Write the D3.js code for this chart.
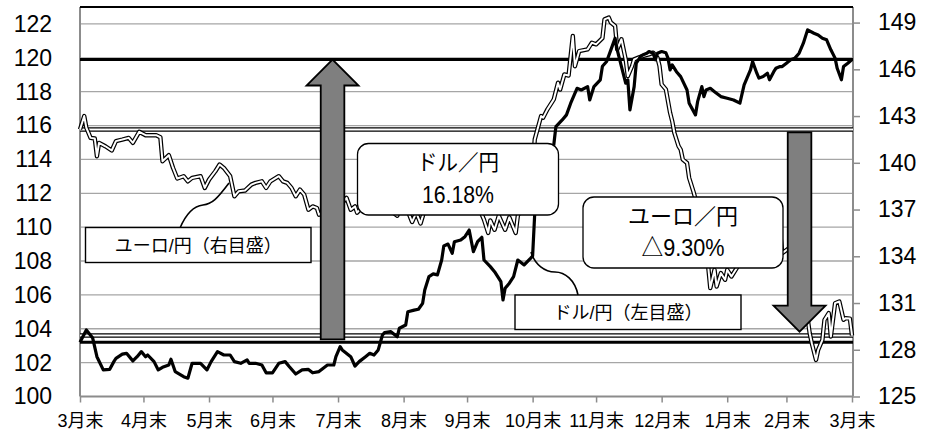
<!DOCTYPE html>
<html><head><meta charset="utf-8">
<script src="https://cdn.jsdelivr.net/npm/d3@7"></script>
<style>body{margin:0;background:#fff}svg{display:block}</style>
</head><body>
<svg id="chart" width="925" height="430"></svg>
<script>
// ---- data ----
const monthLabels = ["3月末","4月末","5月末","6月末","7月末","8月末","9月末","10月末","11月末","12月末","1月末","2月末","3月末"];
const monthDays   = [0,30,61,91,122,153,183,214,244,275,306,334,365]; // days since start (month ends)
const leftTicks  = [100,102,104,106,108,110,112,114,116,118,120,122];
const rightTicks = [125,128,131,134,137,140,143,146,149];

// ドル/円 (left axis)
const usdDays = [0,3,6,8,11,14,16,17,20,22,24,25,27,29,31,32,35,37,39,42,43,45,46,49,51,53,55,57,60,62,65,68,71,73,76,79,80,83,86,88,91,94,97,99,102,105,108,110,113,115,117,120,121,123,124,128,130,132,135,137,139,141,143,144,147,150,151,154,155,158,160,162,163,165,167,169,171,172,174,176,177,180,182,184,186,188,190,191,194,196,199,200,201,203,205,207,210,213,214,215,216,218,220,222,224,225,228,230,232,235,237,240,241,243,246,247,249,251,253,254,256,258,259,260,262,263,265,266,268,269,271,272,273,275,277,278,279,280,282,284,287,288,291,292,294,295,296,298,300,303,306,309,312,314,317,318,320,321,323,325,326,328,329,331,332,334,336,338,340,342,344,347,349,351,353,354,355,357,358,360,361,363,365];
const usdRate = [103.2,103.93,103.45,102.35,101.57,101.6,102.06,102.25,102.5,102.55,102.25,102.1,102.35,102.65,102.35,102.45,102.06,101.57,101.72,101.86,102.2,101.47,101.4,101.17,101.08,101.96,101.96,101.96,101.57,102.06,102.65,102.45,102.45,102.06,101.96,102.16,101.96,101.96,101.86,101.4,101.4,101.96,102.06,101.76,101.33,101.57,101.6,101.4,101.47,101.67,101.86,101.86,102.35,102.94,102.75,102.35,101.8,102.06,102.35,102.55,102.45,102.75,103.63,103.77,103.83,103.53,104.03,104.22,105.0,105.1,105.15,105.5,106.29,107.08,107.24,107.18,108.06,108.89,109.0,108.46,109.14,109.24,109.44,109.83,108.55,109.14,109.4,108.06,107.67,107.37,106.78,105.7,106.39,106.69,107.08,108.06,107.77,108.16,108.3,110.82,113.0,113.6,114.4,114.2,114.85,115.94,116.33,116.63,117.32,118.2,118.1,118.3,117.51,118.3,118.7,119.5,119.78,120.47,121.16,120.47,119.48,118.5,118.7,116.92,118.3,119.68,120.07,120.17,120.27,120.37,120.27,119.88,120.27,120.37,120.3,119.98,119.28,119.58,119.18,118.89,118.1,117.32,116.63,117.41,118.3,117.71,118.1,118.2,118.0,117.71,117.61,117.51,117.32,118.4,119.28,119.78,119.09,118.8,118.9,119.09,118.7,119.18,119.38,119.48,119.48,119.68,119.88,119.98,120.27,120.86,121.65,121.45,121.35,121.16,121.06,120.76,120.47,119.98,119.38,118.7,119.48,119.68,119.9];

// ユーロ/円 (right axis)
const eurDays = [0,2,3,5,7,8,9,12,15,17,20,23,25,28,31,33,36,38,39,42,44,46,49,51,53,57,59,61,64,66,68,71,73,75,78,81,83,86,88,90,94,96,98,100,102,104,106,108,110,112,113,116,119,122,126,128,130,131,133,136,138,140,143,145,147,150,151,153,155,157,159,161,163,166,168,170,173,175,177,179,181,183,185,187,189,191,193,194,196,198,201,203,206,207,209,211,213,214,215,218,219,221,224,226,227,229,231,233,234,236,240,242,244,247,248,250,251,253,254,256,258,259,261,262,264,266,269,271,273,274,275,277,279,280,281,282,283,284,285,287,288,290,292,294,296,297,298,300,301,303,305,306,308,311,313,316,318,320,322,325,327,329,331,332,335,337,339,341,343,345,346,348,349,351,352,354,355,357,359,361,362,364,365];
const eurRate = [142.14,143.0,142.25,141.6,141.56,140.42,141.28,141.06,140.79,141.39,141.49,141.6,141.28,141.99,141.77,141.77,141.77,141.64,140.1,140.49,139.67,138.99,139.14,138.81,139.03,139.14,138.39,138.92,139.46,139.89,139.67,139.14,137.85,138.17,138.22,138.6,138.71,138.81,138.39,138.81,139.14,138.81,138.71,138.39,137.85,138.28,137.96,136.99,137.2,137.1,136.67,137.0,137.4,137.1,137.75,136.99,137.2,136.8,137.1,137.4,137.0,137.3,137.6,137.2,136.9,136.6,137.0,137.4,136.9,136.2,136.8,136.1,137.0,138.0,138.7,139.3,139.8,140.3,140.7,139.9,139.2,138.6,138.1,137.5,137.0,136.35,135.5,136.3,135.7,136.6,135.7,136.5,135.5,136.6,137.2,137.0,137.6,139.5,141.5,143.0,142.9,143.43,144.07,145.14,144.7,145.67,145.6,148.14,146.2,147.17,147.28,147.71,147.6,148.0,149.21,149.32,149.0,148.78,147.28,147.93,146.64,145.57,146.21,146.64,146.75,146.85,146.96,147.07,146.75,146.21,145.03,144.71,143.21,142.67,141.93,141.5,141.07,140.85,140.21,139.99,139.03,138.17,137.2,135.6,134.2,133.35,131.96,133.13,132.06,132.92,132.49,133.13,132.7,133.35,134.2,135.0,134.5,135.5,135.0,135.8,135.3,136.0,135.6,134.2,134.5,133.8,133.0,132.3,131.0,129.06,128.42,127.35,127.99,128.63,129.92,130.35,128.85,130.99,131.1,129.92,130.03,130.0,128.92];

const usdName = "ドル／円", usdChange = "16.18%";
const eurName = "ユーロ／円", eurChange = "△9.30%";
const usdLegend = "ドル/円（左目盛）", eurLegend = "ユーロ/円（右目盛）";

// ---- layout ----
const FONT = "'Liberation Sans', Arial, 'Noto Sans CJK JP', sans-serif";
const svg = d3.select("#chart");
const L = 80, R = 853, T = 7, B = 396.5;
const x  = d3.scaleLinear().domain([0,365]).range([L, 852]);
const yL = d3.scaleLinear().domain([100,123]).range([B, T]);
const yR = d3.scaleLinear().domain([125,150]).range([B, T]);

// gridlines
svg.append("g").selectAll("line").data(leftTicks.filter(t => t > 100)).join("line")
  .attr("x1", L).attr("x2", R).attr("y1", d => yL(d)).attr("y2", d => yL(d))
  .attr("stroke", "#a6a6a6").attr("stroke-width", 1.3);

// axes
const gl = svg.append("g").attr("transform", `translate(${L},0)`)
  .call(d3.axisLeft(yL).tickValues(leftTicks).tickSize(0).tickPadding(28));
const gr = svg.append("g").attr("transform", `translate(${R},0)`)
  .call(d3.axisRight(yR).tickValues(rightTicks).tickSize(7).tickSizeOuter(0).tickPadding(18));
const gb = svg.append("g").attr("transform", `translate(0,${B})`)
  .call(d3.axisBottom(x).tickValues(monthDays).tickFormat((d,i) => monthLabels[i]).tickSize(6).tickSizeOuter(0).tickPadding(12));
[gl, gr, gb].forEach(g => {
  g.select(".domain").attr("stroke", "#8c8c8c").attr("stroke-width", 2);
  g.selectAll(".tick line").attr("stroke", "#8c8c8c").attr("stroke-width", 1.5);
  g.selectAll("text").attr("fill", "#000").attr("font-family", FONT);
});
gl.selectAll("text").attr("font-size", 23);
gr.selectAll("text").attr("font-size", 23);
gb.selectAll("text").attr("font-size", 18);
gl.select(".domain").attr("d", `M0,${T}V${B}`);
gr.select(".domain").attr("d", `M0,${T}V${B}`);
gb.select(".domain").attr("d", `M${L},0H${R}`);

// top border
svg.append("line").attr("x1", L).attr("x2", R).attr("y1", T).attr("y2", T)
  .attr("stroke", "#000").attr("stroke-width", 2);

// reference lines (start / end levels)
const usdStart = usdRate[0], usdEnd = usdRate[usdRate.length-1];
const eurStart = eurRate[0], eurEnd = eurRate[eurRate.length-1];
[usdStart, usdEnd].forEach(v => svg.append("line")
  .attr("x1", L).attr("x2", R).attr("y1", yL(v)).attr("y2", yL(v))
  .attr("stroke", "#000").attr("stroke-width", 3));
[eurStart, eurEnd].forEach(v => {
  svg.append("line").attr("x1", L).attr("x2", R).attr("y1", yR(v)).attr("y2", yR(v))
    .attr("stroke", "#000").attr("stroke-width", 4.4);
  svg.append("line").attr("x1", L).attr("x2", R).attr("y1", yR(v)).attr("y2", yR(v))
    .attr("stroke", "#fff").attr("stroke-width", 2);
});

// series
const eurData = eurDays.map((d,i) => [d, eurRate[i]]);
const usdData = usdDays.map((d,i) => [d, usdRate[i]]);
const eurLine = d3.line().x(d => x(d[0])).y(d => yR(d[1]));
const usdLine = d3.line().x(d => x(d[0])).y(d => yL(d[1]));
svg.append("path").attr("d", eurLine(eurData)).attr("fill", "none")
  .attr("stroke", "#000").attr("stroke-width", 4.4).attr("stroke-linejoin", "round");
svg.append("path").attr("d", eurLine(eurData)).attr("fill", "none")
  .attr("stroke", "#fff").attr("stroke-width", 2).attr("stroke-linejoin", "round");
svg.append("path").attr("d", usdLine(usdData)).attr("fill", "none")
  .attr("stroke", "#000").attr("stroke-width", 3.2).attr("stroke-linejoin", "round");

// arrows showing change
function arrow(cx, y0, y1) {
  const s = Math.sign(y1 - y0), hw = 11.8, hh = 26, hl = 26;
  const yb = y1 - s * hl;
  const pts = [[cx-hw,y0],[cx-hw,yb],[cx-hh,yb],[cx,y1],[cx+hh,yb],[cx+hw,yb],[cx+hw,y0]];
  svg.append("path").attr("d", d3.line()(pts) + "Z")
    .attr("fill", "#7f7f7f").attr("stroke", "#000").attr("stroke-width", 1.8).attr("stroke-linejoin", "miter");
}
arrow(x(119.4), yL(usdStart) - 3, yL(usdEnd));
arrow(x(340.2), yR(eurStart) + 3, yR(eurEnd) - 3.8);

// callouts with change
function callout(bx, by, bw, bh, l1, w1, l2, w2) {
  svg.append("rect").attr("x", bx).attr("y", by).attr("width", bw).attr("height", bh)
    .attr("rx", 11).attr("fill", "#fff").attr("stroke", "#000").attr("stroke-width", 1.3);
  const cx = bx + bw/2;
  svg.append("text").attr("font-family", FONT).attr("font-size", 22)
    .attr("text-anchor", "middle").attr("fill", "#000")
    .attr("x", cx).attr("y", by + bh*0.27).attr("dominant-baseline", "central")
    .attr("textLength", w1).attr("lengthAdjust", "spacingAndGlyphs").text(l1);
  svg.append("text").attr("font-family", FONT).attr("font-size", 24)
    .attr("text-anchor", "middle").attr("fill", "#000")
    .attr("x", cx).attr("y", by + bh*0.71).attr("dominant-baseline", "central")
    .attr("textLength", w2).attr("lengthAdjust", "spacingAndGlyphs").text(l2);
}
callout(357.5, 143.5, 201, 71.5, usdName, 82, usdChange, 72);
callout(583, 197, 200, 71, eurName, 110, eurChange, 83);

// legend labels with connectors
function legendBox(bx, by, bw, bh, label, conn) {
  svg.append("path").attr("d", conn).attr("fill", "none").attr("stroke", "#000").attr("stroke-width", 1.6);
  svg.append("rect").attr("x", bx).attr("y", by).attr("width", bw).attr("height", bh)
    .attr("fill", "#fff").attr("stroke", "#000").attr("stroke-width", 1.4);
  svg.append("text").attr("x", bx + bw/2).attr("y", by + bh/2 + 1).attr("dominant-baseline", "central")
    .attr("text-anchor", "middle").attr("font-family", FONT).attr("font-size", 18).attr("fill", "#000").text(label);
}
legendBox(85.5, 227.5, 225.5, 35, eurLegend, "M180,228 C186,214 194,206 203,205 S217,199 229,183");
legendBox(515, 295, 226, 34.5, usdLegend, "M531,252 C535,265 545,272 555,272 S575,280 578,295");
</script>
</body></html>
